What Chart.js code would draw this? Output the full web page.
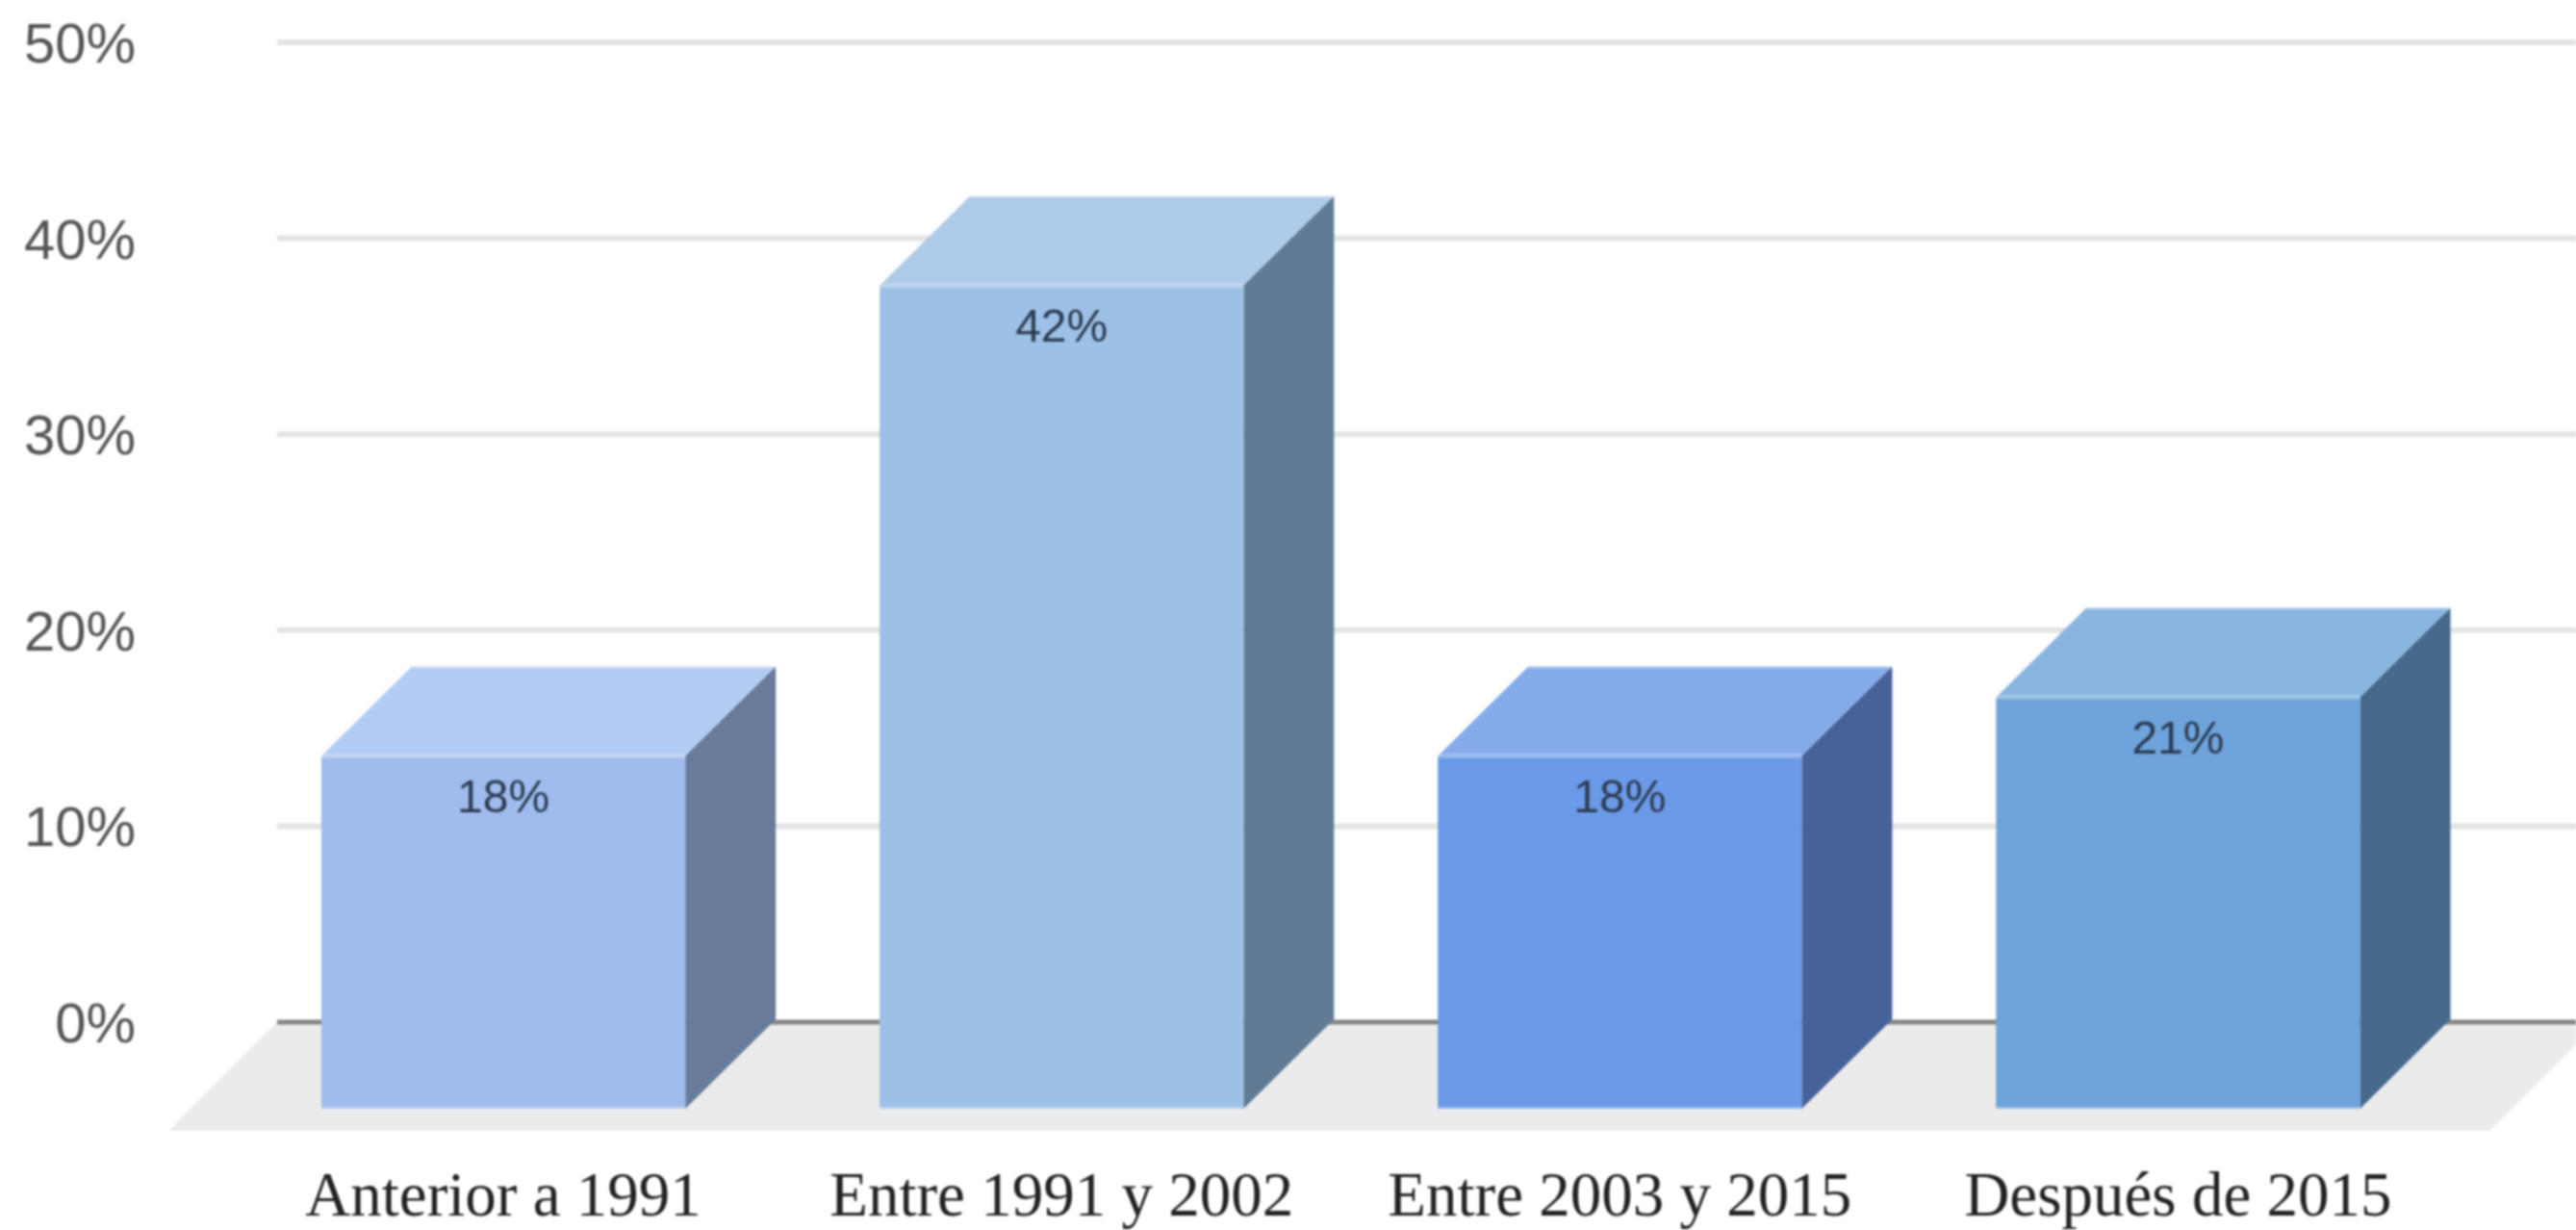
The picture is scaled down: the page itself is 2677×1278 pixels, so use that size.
<!DOCTYPE html>
<html>
<head>
<meta charset="utf-8">
<title>Chart</title>
<script src="https://cdn.jsdelivr.net/npm/chart.js@4"></script>
<style>
  html, body { margin: 0; padding: 0; background: #fff; }
  canvas { display: block; filter: blur(1.2px); }
</style>
</head>
<body>
<canvas id="myChart" width="2677" height="1278"></canvas>
<script>
var categories = ['Anterior a 1991', 'Entre 1991 y 2002', 'Entre 2003 y 2015', 'Después de 2015'];
var values = [18, 42, 18, 21];
var yTicks = [0, 10, 20, 30, 40, 50];

var frontColors = ['#a0bcee', '#9dc1e6', '#6a9ae8', '#6fa3dc'];
var topColors = ['#b3ccf4', '#aecbe9', '#85acea', '#8ab5e0'];
var sideColors = ['#687b9a', '#617b95', '#466298', '#47698c'];

// 3d look: the bars sit this far in front of the back wall
var depthX = 94;
var depthY = 93;
var wallLeft = 288;

function poly(ctx, pts, color) {
  ctx.fillStyle = color;
  ctx.beginPath();
  ctx.moveTo(pts[0][0], pts[0][1]);
  for (var i = 1; i < pts.length; i++) {
    ctx.lineTo(pts[i][0], pts[i][1]);
  }
  ctx.closePath();
  ctx.fill();
}

function rim(ctx, x1, x2, y) {
  ctx.strokeStyle = 'rgba(255,255,255,0.22)';
  ctx.lineWidth = 5;
  ctx.beginPath();
  ctx.moveTo(x1, y);
  ctx.lineTo(x2, y);
  ctx.stroke();
}

var box3d = {
  id: 'box3d',
  beforeDatasetsDraw: function(chart) {
    var ctx = chart.ctx;
    var wall = chart.scales.y;
    var floorBack = wall.getPixelForValue(0);
    var floorFront = chart.chartArea.bottom + 23;
    var w = chart.width;

    // floor
    poly(ctx, [[wallLeft, floorBack], [w + 23, floorBack], [w + 23 - 113, floorFront], [wallLeft - 113, floorFront]], '#ebebeb');

    // wall lines
    ctx.lineCap = 'butt';
    wall.ticks.forEach(function(t) {
      var y = wall.getPixelForValue(t.value);
      ctx.strokeStyle = t.value === 0 ? '#858585' : '#e4e4e4';
      ctx.lineWidth = t.value === 0 ? 5 : 6;
      ctx.beginPath();
      ctx.moveTo(wallLeft, y);
      ctx.lineTo(w, y);
      ctx.stroke();
    });

    // top and side of each bar
    chart.getDatasetMeta(0).data.forEach(function(bar, i) {
      var half = bar.width / 2;
      var l = bar.x - half;
      var r = bar.x + half;
      poly(ctx, [[l, bar.y], [l + depthX, bar.y - depthY], [r + depthX, bar.y - depthY], [r, bar.y]], topColors[i]);
      poly(ctx, [[r, bar.y], [r + depthX, bar.y - depthY], [r + depthX, bar.base - depthY], [r, bar.base]], sideColors[i]);
    });
  },
  afterDatasetsDraw: function(chart) {
    var ctx = chart.ctx;
    chart.getDatasetMeta(0).data.forEach(function(bar, i) {
      var half = bar.width / 2;
      rim(ctx, bar.x - half, bar.x + half, bar.y);
      rim(ctx, bar.x - half, bar.x + half, bar.base);
      rim(ctx, bar.x - half + depthX, bar.x + half + depthX, bar.y - depthY);
    });
    ctx.fillStyle = '#2c3c52';
    ctx.font = '48px "Liberation Sans"';
    ctx.textAlign = 'center';
    ctx.textBaseline = 'middle';
    chart.getDatasetMeta(0).data.forEach(function(bar, i) {
      ctx.fillText(values[i] + '%', bar.x, bar.y + 45);
    });
  }
};

new Chart(document.getElementById('myChart'), {
  type: 'bar',
  data: {
    labels: categories,
    datasets: [{
      data: values,
      yAxisID: 'front',
      backgroundColor: frontColors,
      borderWidth: 0,
      categoryPercentage: 0.652,
      barPercentage: 1
    }]
  },
  options: {
    responsive: false,
    animation: false,
    layout: { padding: { top: 44, right: 123.5, left: 0, bottom: 0 } },
    plugins: { legend: { display: false }, tooltip: { enabled: false } },
    scales: {
      x: {
        grid: { display: false },
        border: { display: false },
        afterFit: function(axis) {
          axis.height = 126;
          axis.paddingLeft = 0;
          axis.paddingRight = 0;
        },
        ticks: {
          autoSkip: false,
          maxRotation: 0,
          padding: 47,
          color: '#222',
          font: { family: '"Liberation Serif"', size: 65 }
        }
      },
      y: {
        position: 'left',
        min: -4.42,
        max: 50,
        grid: { display: false },
        border: { display: false },
        afterFit: function(axis) {
          axis.width = 233;
          axis.paddingTop = 0;
          axis.paddingBottom = 0;
        },
        afterBuildTicks: function(axis) {
          axis.ticks = yTicks.map(function(v) { return { value: v }; });
        },
        ticks: {
          padding: 84,
          labelOffset: 5,
          color: '#555',
          font: { family: '"Liberation Sans"', size: 58 },
          callback: function(v) { return v + '%'; }
        }
      },
      front: {
        display: false,
        min: 0,
        max: 54.42
      }
    }
  },
  plugins: [box3d]
});
</script>
</body>
</html>
